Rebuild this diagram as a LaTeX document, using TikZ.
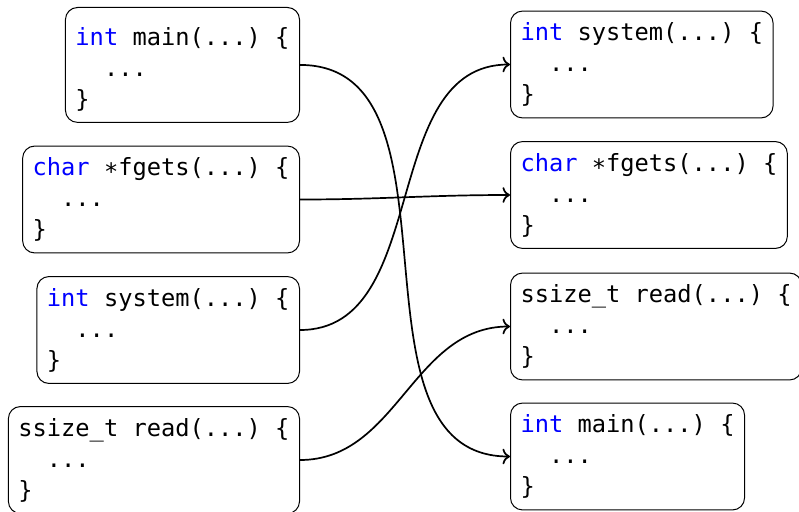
\documentclass[tikz,border=0pt]{standalone}
\usepackage{fontspec}
\setmonofont{DejaVu Sans Mono}
\usepackage{xcolor}
\usepackage{tikz}
\usetikzlibrary{arrows.meta}

\newcommand{\kw}[1]{\textcolor{blue}{#1}}
\newcommand{\codefont}{\ttfamily\fontsize{23.7}{31}\selectfont}

\begin{document}
\begin{tikzpicture}[x=1pt, y=1pt,
    fn/.style={draw, line width=1pt, rounded corners=12pt, align=left,
      inner xsep=10pt, inner ysep=11.5pt, font=\codefont},
    call/.style={-{To[scale=1.4]}, line width=1.7pt}]
    \useasboundingbox (0,0) rectangle (799,-511);
    % functions in their original order
    \node[fn, anchor=north east] (lmain) at (300,-7) {\rule{0pt}{26pt}\kw{int} main(...) \{\\\phantom{xx}...\\\}};
    \node[fn, anchor=east] (lfgets) at (300,-199.5) {\kw{char} ∗fgets(...) \{\\\phantom{xx}...\\\}};
    \node[fn, anchor=east] (lsystem) at (300,-330) {\kw{int} system(...) \{\\\phantom{xx}...\\\}};
    \node[fn, anchor=east] (lread) at (300,-460) {ssize\_t read(...) \{\\\phantom{xx}...\\\}};
    % functions after reordering
    \node[fn, anchor=west] (rsystem) at (510,-64.5) {\kw{int} system(...) \{\\\phantom{xx}...\\\}};
    \node[fn, anchor=west] (rfgets) at (510,-195) {\kw{char} ∗fgets(...) \{\\\phantom{xx}...\\\}};
    \node[fn, anchor=west] (rread) at (510,-326.5) {ssize\_t read(...) \{\\\phantom{xx}...\\\}};
    \node[fn, anchor=west] (rmain) at (510,-456.5) {\kw{int} main(...) \{\\\phantom{xx}...\\\}};
    % where each one moved
    \draw[call] (lmain.east) to[out=0, in=180] (rmain.west);
    \draw[call] (lfgets.east) to[out=0, in=180] (rfgets.west);
    \draw[call] (lsystem.east) to[out=0, in=180] (rsystem.west);
    \draw[call] (lread.east) to[out=0, in=180] (rread.west);
\end{tikzpicture}
\end{document}
